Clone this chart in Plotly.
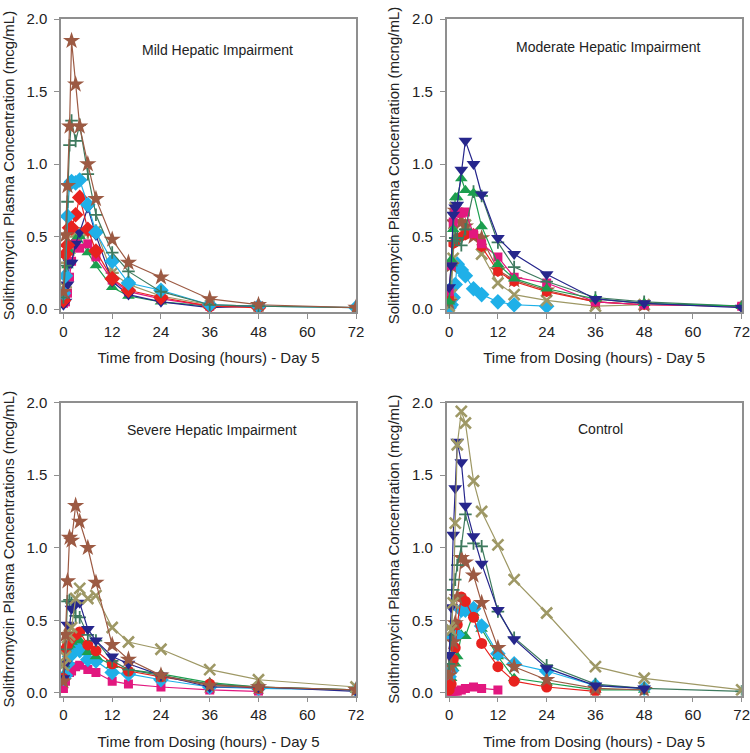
import plotly.graph_objects as go

# ---------------- data ----------------
hours = [0, 0.5, 1, 1.5, 2, 3, 4, 6, 8, 12, 16, 24, 36, 48, 72]
x_ticks = [0, 12, 24, 36, 48, 60, 72]
y_ticks = [0.0, 0.5, 1.0, 1.5, 2.0]

# Mild hepatic impairment
mild_star    = [0.12, 0.51, 0.85, 1.26, 1.85, 1.55, 1.26, 1.00, 0.76, 0.48, 0.32, 0.22, 0.07, 0.03, 0.01]
mild_plus    = [0.08, 0.30, 0.74, 1.13, 1.30, 1.16, 1.27, 0.93, 0.65, 0.39, 0.26, 0.12, 0.03, 0.02, 0.01]
mild_cyan    = [0.11, 0.23, 0.64, 0.86, 0.88, 0.87, 0.89, 0.72, 0.53, 0.33, 0.18, 0.13, 0.03, 0.02, 0.01]
mild_red     = [0.06, 0.38, 0.44, 0.56, 0.56, 0.65, 0.77, 0.55, 0.40, 0.21, 0.13, 0.08, 0.02, 0.01, None]
mild_navy    = [0.03, 0.05, 0.17, 0.32, 0.32, 0.45, 0.53, 0.70, 0.51, 0.19, 0.10, 0.05, 0.01, 0.02, None]
mild_magenta = [0.04, 0.05, 0.11, 0.22, 0.33, 0.45, 0.42, 0.45, 0.36, 0.20, 0.12, 0.07, 0.02, 0.02, None]
mild_green   = [0.05, 0.12, 0.30, 0.40, 0.44, 0.48, 0.50, 0.39, 0.30, 0.15, 0.09, 0.05, 0.02, 0.02, None]
mild_olive   = [0.08, 0.15, 0.32, 0.40, 0.43, 0.50, 0.52, 0.53, 0.54, 0.25, 0.17, 0.09, 0.03, 0.02, None]

# Moderate hepatic impairment
mod_navy    = [0.15, 0.30, 0.65, 0.70, 0.72, 0.96, 1.16, 1.00, 0.79, 0.49, 0.38, 0.24, 0.07, 0.04, 0.01]
mod_green   = [0.05, 0.34, 0.55, 0.77, 0.77, 0.90, 0.82, 0.80, 0.57, 0.31, 0.21, 0.14, 0.07, 0.04, 0.02]
mod_plus    = [0.05, 0.30, 0.47, 0.49, 0.49, 0.44, 0.55, 0.81, 0.78, 0.46, 0.29, 0.19, 0.08, 0.05, 0.02]
mod_magenta = [0.12, 0.30, 0.60, 0.68, 0.67, 0.66, 0.67, 0.52, 0.45, 0.36, 0.22, 0.18, 0.05, 0.03, 0.02]
mod_red     = [0.08, 0.30, 0.45, 0.46, 0.49, 0.50, 0.51, 0.52, 0.43, 0.26, 0.19, 0.12, 0.05, 0.03, 0.02]
mod_star    = [0.05, 0.30, 0.60, 0.68, 0.66, 0.60, 0.57, 0.50, 0.49, 0.27, 0.20, 0.13, 0.05, 0.03, None]
mod_olive   = [0.02, 0.10, 0.35, 0.70, 0.66, 0.63, 0.58, 0.53, 0.38, 0.18, 0.10, 0.06, 0.02, 0.03, None]
mod_cyan    = [0.01, 0.03, 0.08, 0.17, 0.31, 0.27, 0.23, 0.14, 0.10, 0.05, 0.03, 0.02, None, None, None]

# Severe hepatic impairment
sev_star    = [0.08, 0.40, 0.77, 1.07, 1.05, 1.29, 1.18, 1.00, 0.76, 0.33, 0.23, 0.12, 0.05, 0.04, 0.02]
sev_olive   = [0.19, 0.25, 0.38, 0.40, 0.45, 0.65, 0.72, 0.65, 0.67, 0.45, 0.35, 0.30, 0.16, 0.09, 0.04]
sev_navy    = [0.10, 0.20, 0.47, 0.46, 0.58, 0.61, 0.62, 0.44, 0.36, 0.25, 0.20, 0.12, 0.04, 0.04, 0.01]
sev_plus    = [0.18, 0.30, 0.63, 0.64, 0.62, 0.53, 0.52, 0.40, 0.36, 0.22, 0.16, 0.12, 0.06, 0.04, 0.02]
sev_red     = [0.10, 0.30, 0.33, 0.36, 0.38, 0.40, 0.42, 0.33, 0.29, 0.20, 0.15, 0.11, 0.06, 0.03, None]
sev_green   = [0.20, 0.30, 0.32, 0.33, 0.35, 0.37, 0.36, 0.28, 0.25, 0.19, 0.16, 0.13, 0.07, 0.04, 0.02]
sev_cyan    = [0.10, 0.12, 0.20, 0.25, 0.27, 0.34, 0.29, 0.23, 0.22, 0.14, 0.13, 0.09, 0.04, 0.03, 0.02]
sev_magenta = [0.03, 0.08, 0.20, 0.14, 0.15, 0.18, 0.19, 0.16, 0.14, 0.08, 0.06, 0.04, 0.02, 0.01, None]

# Control
ctl_olive   = [0.45, 0.43, 0.62, 1.17, 1.71, 1.94, 1.86, 1.46, 1.25, 1.02, 0.78, 0.55, 0.18, 0.10, 0.02]
ctl_navy    = [0.26, 0.59, 1.09, 1.41, 1.73, 1.59, 1.29, 1.08, 0.89, 0.57, 0.37, 0.17, 0.05, 0.03, None]
ctl_plus    = [0.20, 0.40, 0.71, 0.78, 0.88, 1.01, 1.23, 1.03, 1.01, 0.56, 0.38, 0.19, 0.06, 0.03, 0.01]
ctl_star    = [0.12, 0.18, 0.35, 0.48, 0.66, 0.93, 0.90, 0.81, 0.62, 0.31, 0.18, 0.09, 0.03, 0.02, None]
ctl_red     = [0.02, 0.06, 0.23, 0.31, 0.47, 0.66, 0.63, 0.52, 0.34, 0.18, 0.08, 0.04, 0.01, None, None]
ctl_cyan    = [0.11, 0.15, 0.38, 0.40, 0.40, 0.57, 0.57, 0.58, 0.46, 0.27, 0.20, 0.15, 0.05, 0.03, None]
ctl_green   = [0.05, 0.10, 0.17, 0.20, 0.25, 0.40, 0.39, 0.55, 0.44, 0.25, 0.10, 0.07, 0.02, 0.02, None]
ctl_magenta = [0.00, 0.00, 0.01, 0.01, 0.01, 0.02, 0.03, 0.04, 0.03, 0.02, None, None, None, None, None]

panel_titles = ["Mild Hepatic Impairment", "Moderate Hepatic Impairment",
                "Severe Hepatic Impairment", "Control"]
y_titles = ["Solithromycin Plasma Concentration (mcg/mL)",
            "Solithromycin Plasma Concentration (mcng/mL)",
            "Solithromycin Plasma Concentrations (mcg/mL)",
            "Solithromycin Plasma Concentration (mcg/mL)"]
x_title = "Time from Dosing (hours) - Day 5"

# ---------------- styles ----------------
C_BROWN = "#9C5A43"
C_DKGREEN = "#3E7A5E"
C_CYAN = "#1FB0E8"
C_RED = "#E8221E"
C_NAVY = "#26268C"
C_MAGENTA = "#E2187F"
C_GREEN = "#1C9E4E"
C_OLIVE = "#9E9865"

STY = {
    "star":    dict(color=C_BROWN, symbol="star", size=13),
    "plus":    dict(color=C_DKGREEN, symbol="cross-thin-open", size=9, lw=1.8),
    "cyan":    dict(color=C_CYAN, symbol="diamond", size=12),
    "reddia":  dict(color=C_RED, symbol="diamond", size=12),
    "redhex":  dict(color=C_RED, symbol="hexagon", size=11),
    "redcir":  dict(color=C_RED, symbol="circle", size=11),
    "navy":    dict(color=C_NAVY, symbol="triangle-down", size=12),
    "magenta": dict(color=C_MAGENTA, symbol="square", size=9),
    "green":   dict(color=C_GREEN, symbol="triangle-up", size=11),
    "olivex":  dict(color=C_OLIVE, symbol="x-thin-open", size=11, lw=2.6),
    "oliveast": dict(color=C_OLIVE, symbol="asterisk-open", size=11, lw=2.4),
}

panels = [
    [("olive", mild_olive, "oliveast"), ("green", mild_green, "green"), ("magenta", mild_magenta, "magenta"),
     ("navy", mild_navy, "navy"), ("red", mild_red, "reddia"), ("cyan", mild_cyan, "cyan"),
     ("plus", mild_plus, "plus"), ("star", mild_star, "star")],
    [("cyan", mod_cyan, "cyan"), ("olive", mod_olive, "olivex"), ("star", mod_star, "star"),
     ("red", mod_red, "redhex"), ("magenta", mod_magenta, "magenta"), ("plus", mod_plus, "plus"),
     ("green", mod_green, "green"), ("navy", mod_navy, "navy")],
    [("magenta", sev_magenta, "magenta"), ("cyan", sev_cyan, "cyan"), ("green", sev_green, "green"),
     ("red", sev_red, "redcir"), ("plus", sev_plus, "plus"), ("navy", sev_navy, "navy"),
     ("olive", sev_olive, "olivex"), ("star", sev_star, "star")],
    [("magenta", ctl_magenta, "magenta"), ("green", ctl_green, "green"), ("cyan", ctl_cyan, "cyan"),
     ("red", ctl_red, "redcir"), ("star", ctl_star, "star"), ("plus", ctl_plus, "plus"),
     ("navy", ctl_navy, "navy"), ("olive", ctl_olive, "olivex")],
]

W, H = 750, 753
# pixel boxes (left, right, top, bottom)
boxes = [(61, 356, 19, 312), (446.7, 741.7, 19, 312),
         (61, 356, 402.7, 695.7), (446.7, 741.7, 402.7, 695.7)]
title_pos = [(0.529, 0.894), (0.547, 0.905), (0.512, 0.907), (0.523, 0.91)]

fig = go.Figure()
FONT = "Liberation Sans, Arial, Helvetica, sans-serif"
AX = "#8f8f8f"

for i, (series, box) in enumerate(zip(panels, boxes)):
    n = "" if i == 0 else str(i + 1)
    for name, vals, sk in series:
        s = STY[sk]
        marker = dict(color=s["color"], symbol=s["symbol"], size=s["size"])
        if "lw" in s:
            marker["line"] = dict(color=s["color"], width=s["lw"])
        else:
            marker["line"] = dict(width=0)
        fig.add_trace(go.Scatter(
            x=hours, y=vals, mode="lines+markers", name=name,
            line=dict(color=s["color"], width=1.2), marker=marker,
            xaxis="x" + n, yaxis="y" + n, showlegend=False, connectgaps=False))
    l, r, t, b = box
    fig.layout["xaxis" + n] = dict(
        domain=[l / W, r / W], anchor="y" + n, range=[-0.6, 72],
        tickvals=x_ticks, ticks="outside", ticklen=5, tickcolor=AX, tickwidth=1,
        ticklabeloverflow="allow",
        showline=True, linecolor=AX, linewidth=1.5, mirror=True,
        showgrid=False, zeroline=False, automargin=False,
        tickfont=dict(size=15, color="#222", family=FONT),
        title=dict(text=x_title, font=dict(size=15, color="#222", family=FONT), standoff=14))
    fig.layout["yaxis" + n] = dict(
        domain=[1 - b / H, 1 - t / H], anchor="x" + n, range=[-0.02, 2.0],
        tickvals=y_ticks, tickformat=".1f", ticks="outside", ticklen=5, tickcolor=AX, tickwidth=1,
        ticklabelstandoff=4, ticklabeloverflow="allow",
        showline=True, linecolor=AX, linewidth=1.5, mirror=True,
        showgrid=False, zeroline=False, automargin=False,
        tickfont=dict(size=15, color="#222", family=FONT),
        title=dict(text=y_titles[i], font=dict(size=15, color="#222", family=FONT), standoff=9))
    tx, ty = title_pos[i]
    fig.add_annotation(text=panel_titles[i], xref=("x" + n + " domain"), yref=("y" + n + " domain"),
                       x=tx, y=ty, showarrow=False, xanchor="center", yanchor="middle",
                       font=dict(size=14, color="#222", family=FONT))

fig.update_layout(width=W, height=H, margin=dict(l=0, r=0, t=0, b=0, autoexpand=False),
                  plot_bgcolor="white", paper_bgcolor="white", showlegend=False)
fig.write_html("out.html", config={"displayModeBar": False},
               post_script="document.body.style.margin='0';")
